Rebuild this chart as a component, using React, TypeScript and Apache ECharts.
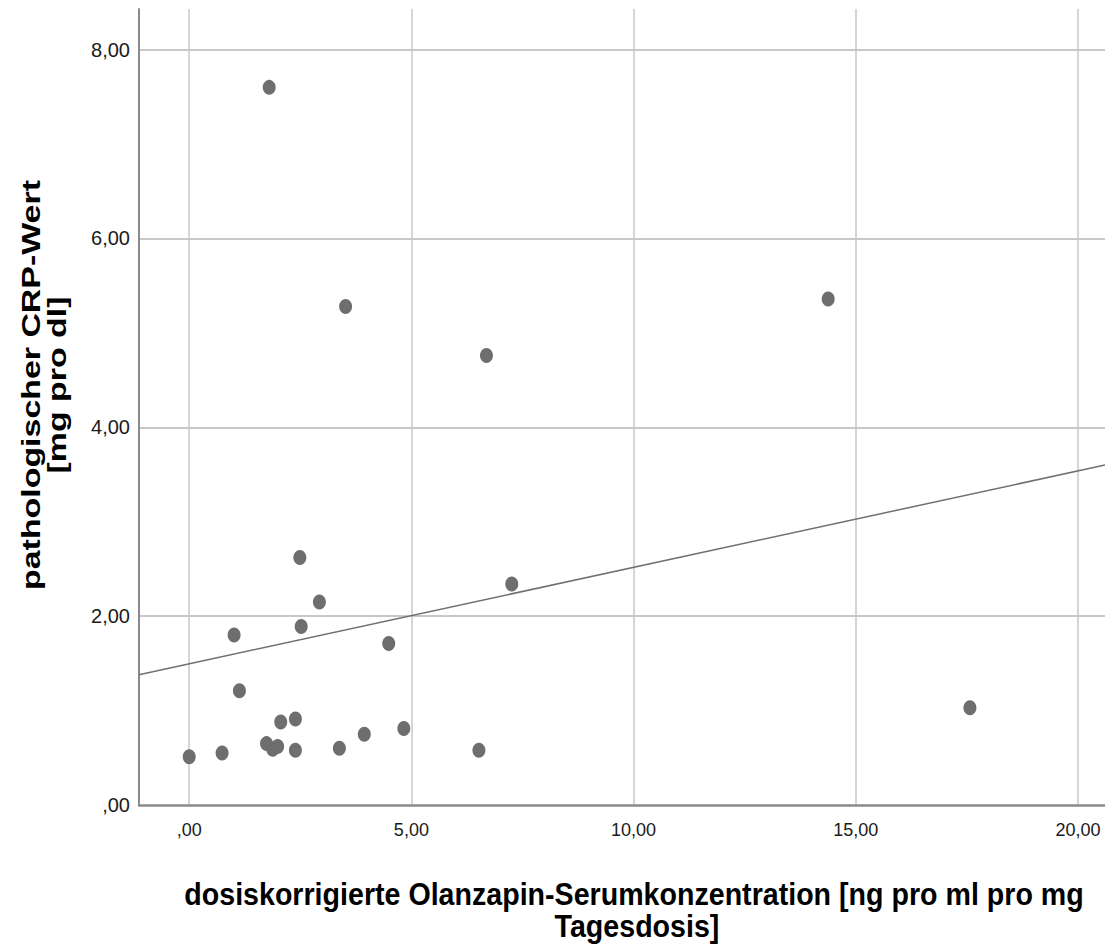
import React, { useEffect, useRef } from 'react';
import * as echarts from 'echarts';

// Scatter data
const concentration = [1.80, 3.52, 6.69, 14.38, 2.49, 2.93, 7.26, 1.01, 2.52, 4.49, 1.13, 2.06, 2.39, 1.74, 1.88, 1.99, 2.39, 0.00, 0.74, 3.38, 3.94, 4.83, 6.52, 17.57];
const crp = [7.60, 5.28, 4.76, 5.36, 2.62, 2.15, 2.34, 1.80, 1.89, 1.71, 1.21, 0.88, 0.91, 0.65, 0.59, 0.62, 0.58, 0.51, 0.55, 0.60, 0.75, 0.81, 0.58, 1.03];

// Fit line end points
const fitX = [-1.13, 20.61];
const fitY = [1.38, 3.60];

const xRange = [-1.13, 20.61];
const yRange = [0, 8.43];

const xTitleLines = ['dosiskorrigierte Olanzapin-Serumkonzentration [ng pro ml pro mg', 'Tagesdosis]'];
const yTitleLines = ['pathologischer CRP-Wert', '[mg pro dl]'];

function fontAvailable(name: string): boolean {
  const c = document.createElement('canvas').getContext('2d');
  if (!c) return false;
  const s = 'mmmmmmmmmwwwwwlli10,00';
  for (const base of ['monospace', 'serif']) {
    c.font = `20px ${base}`;
    const w0 = c.measureText(s).width;
    c.font = `20px "${name}", ${base}`;
    if (Math.abs(c.measureText(s).width - w0) > 0.5) return true;
  }
  return false;
}

function textWidth(text: string, font: string): number {
  const c = document.createElement('canvas').getContext('2d');
  if (!c) return 1;
  c.font = font;
  return c.measureText(text).width || 1;
}

const fmt = (v: number) => (Math.abs(v) < 1e-9 ? ',00' : v.toFixed(2).replace('.', ','));

export default function App() {
  const ref = useRef<HTMLDivElement>(null);

  useEffect(() => {
    if (!ref.current) return;
    const chart = echarts.init(ref.current, undefined, { renderer: 'svg' });

    const baseFont = '"Liberation Sans", Arial, Helvetica, sans-serif';
    const narrowOk = fontAvailable('Liberation Sans Narrow');
    const xLabelFont = narrowOk ? '"Liberation Sans Narrow", "Liberation Sans", Arial, sans-serif' : baseFont;
    const xLabelSize = narrowOk ? 22 : 18;

    const xTitleSize = 32;
    const xTitleW = textWidth(xTitleLines[0], `bold ${xTitleSize}px "Liberation Sans", Arial, sans-serif`);
    const xTitleScale = 900 / xTitleW;

    const yTitleSize = 26;
    const yTitleW = textWidth(yTitleLines[0], `bold ${yTitleSize}px "Liberation Sans", Arial, sans-serif`);
    const yTitleScale = 410 / yTitleW;

    const scatterData = concentration.map((x, i) => [x, crp[i]]);
    const fitData = fitX.map((x, i) => [x, fitY[i]]);

    chart.setOption({
      animation: false,
      backgroundColor: '#ffffff',
      grid: { left: 139, top: 9, right: 0, bottom: 141, containLabel: false },
      xAxis: {
        type: 'value',
        min: xRange[0],
        max: xRange[1],
        minInterval: 5,
        maxInterval: 5,
        splitNumber: 4,
        axisLine: { show: true, onZero: false, lineStyle: { color: '#8a8a8a', width: 2.5 } },
        axisTick: { show: false },
        axisLabel: {
          formatter: fmt,
          showMinLabel: false,
          showMaxLabel: false,
          margin: 16,
          color: '#1a1a1a',
          fontFamily: xLabelFont,
          fontSize: xLabelSize,
        },
        splitLine: { show: true, showMinLine: false, showMaxLine: false, lineStyle: { color: '#c8c8c8', width: 1.5 } },
      },
      yAxis: {
        type: 'value',
        min: yRange[0],
        max: yRange[1],
        interval: 2,
        axisLine: { show: true, onZero: false, lineStyle: { color: '#8a8a8a', width: 2 } },
        axisTick: { show: false },
        axisLabel: {
          formatter: fmt,
          showMaxLabel: false,
          margin: 9,
          color: '#1a1a1a',
          fontFamily: baseFont,
          fontSize: 20,
          padding: [10, 0, 0, 0],
        },
        splitLine: { show: true, showMinLine: false, showMaxLine: false, lineStyle: { color: '#c8c8c8', width: 2 } },
      },
      series: [
        {
          type: 'line',
          data: fitData,
          showSymbol: false,
          symbol: 'none',
          silent: true,
          lineStyle: { color: '#707070', width: 1.5 },
          z: 2,
        },
        {
          type: 'scatter',
          data: scatterData,
          symbol: 'circle',
          symbolSize: [13, 15],
          itemStyle: { color: '#6e6e6e', opacity: 1 },
          z: 3,
        },
      ],
      graphic: [
        {
          type: 'text',
          x: 634,
          y: 894,
          scaleX: xTitleScale,
          style: {
            text: xTitleLines[0],
            fontFamily: baseFont,
            fontWeight: 'bold',
            fontSize: xTitleSize,
            fill: '#000000',
            align: 'center',
            verticalAlign: 'middle',
          },
        },
        {
          type: 'text',
          x: 637,
          y: 926,
          scaleX: xTitleScale,
          style: {
            text: xTitleLines[1],
            fontFamily: baseFont,
            fontWeight: 'bold',
            fontSize: xTitleSize,
            fill: '#000000',
            align: 'center',
            verticalAlign: 'middle',
          },
        },
        {
          type: 'text',
          x: 31,
          y: 385,
          rotation: Math.PI / 2,
          scaleX: yTitleScale,
          style: {
            text: yTitleLines[0],
            fontFamily: baseFont,
            fontWeight: 'bold',
            fontSize: yTitleSize,
            fill: '#000000',
            align: 'center',
            verticalAlign: 'middle',
          },
        },
        {
          type: 'text',
          x: 57,
          y: 385,
          rotation: Math.PI / 2,
          scaleX: yTitleScale,
          style: {
            text: yTitleLines[1],
            fontFamily: baseFont,
            fontWeight: 'bold',
            fontSize: yTitleSize,
            fill: '#000000',
            align: 'center',
            verticalAlign: 'middle',
          },
        },
      ],
    });

    return () => chart.dispose();
  }, []);

  return (
    <div
      ref={ref}
      style={{ position: 'absolute', left: 0, top: 0, width: 1105, height: 946, background: '#fff' }}
    />
  );
}
